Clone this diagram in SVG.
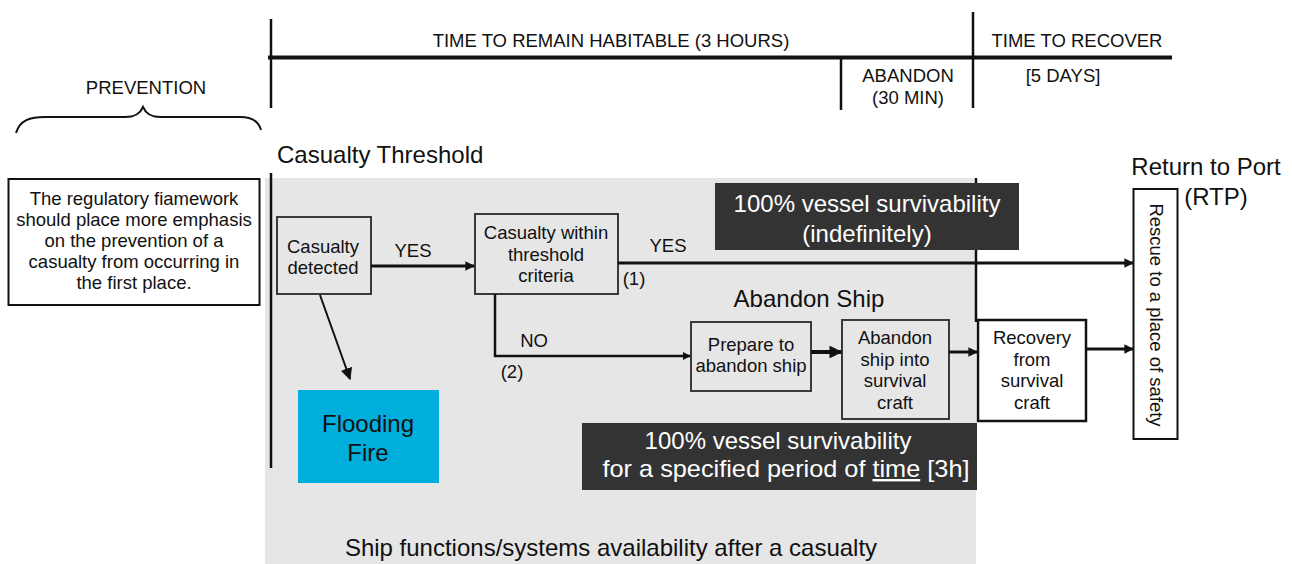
<svg xmlns="http://www.w3.org/2000/svg" width="1292" height="564" viewBox="0 0 1292 564">
<style>
text{font-family:"Liberation Sans",Arial,sans-serif;fill:#111}
.t16{font-size:18.5px}
.t15{font-size:18.5px}
.t20{font-size:24px}
.w{fill:#fff}
.box{fill:#e6e6e6;stroke:#3a3a3a;stroke-width:2}
.wbox{fill:#fff;stroke:#111;stroke-width:2.5}
.dark{fill:#333}
.ln{fill:none;stroke:#111}
</style>
<defs>
<marker id="ah" viewBox="0 0 10 10" refX="9" refY="5" markerWidth="3.2" markerHeight="3.2" orient="auto" markerUnits="strokeWidth">
<path d="M0,0 L10,5 L0,10 z" fill="#111"/>
</marker>
<marker id="ah2" viewBox="0 0 10 10" refX="9" refY="5" markerWidth="6" markerHeight="6" orient="auto" markerUnits="strokeWidth">
<path d="M0,0 L10,5 L0,10 z" fill="#111"/>
</marker>
</defs>
<rect width="1292" height="564" fill="#fff"/>
<!-- shaded area -->
<rect x="265" y="178" width="711" height="386" fill="#e6e6e6"/>
<!-- timeline -->
<g id="timeline">
<line class="ln" x1="268" y1="57.5" x2="1172" y2="57.5" stroke-width="4"/>
<line class="ln" x1="271" y1="19" x2="271" y2="108" stroke-width="2.5"/>
<line class="ln" x1="841" y1="58" x2="841" y2="110" stroke-width="2.5"/>
<line class="ln" x1="973" y1="12" x2="973" y2="108" stroke-width="2.5"/>
<line class="ln" x1="271" y1="173" x2="271" y2="468" stroke-width="2.5"/>
<line class="ln" x1="976" y1="178" x2="976" y2="322" stroke-width="2.5"/>
<text class="t16" x="611" y="47" text-anchor="middle">TIME TO REMAIN HABITABLE (3 HOURS)</text>
<text class="t16" x="1077" y="47" text-anchor="middle">TIME TO RECOVER</text>
<text class="t16" x="908" y="82" text-anchor="middle">ABANDON</text>
<text class="t16" x="908" y="104" text-anchor="middle">(30 MIN)</text>
<text class="t16" x="1063" y="82" text-anchor="middle">[5 DAYS]</text>
</g>
<g id="prevention">
<text class="t16" x="146" y="94" text-anchor="middle">PREVENTION</text>
<path class="ln" stroke-width="2" d="M16,133 C20,120 30,117 45,117 L125,117 C135,117 140,114 143,107 C146,114 151,117 161,117 L240,117 C252,117 259,122 261,130"/>
</g>
<g id="prevention-box">
<rect x="8.5" y="179" width="251" height="126" fill="#fff" stroke="#111" stroke-width="2"/>
<text class="t15" x="134" text-anchor="middle"><tspan x="134" y="205">The regulatory fiamework</tspan><tspan x="134" y="226">should place more emphasis</tspan><tspan x="134" y="247">on the prevention of a</tspan><tspan x="134" y="268">casualty from occurring in</tspan><tspan x="134" y="289">the first place.</tspan></text>
</g>
<text class="t20" x="277" y="163">Casualty Threshold</text>
<g id="casualty-detected">
<rect class="box" x="277" y="217" width="94" height="77"/>
<text class="t16" text-anchor="middle"><tspan x="323" y="253">Casualty</tspan><tspan x="323" y="274">detected</tspan></text>
</g>
<g id="casualty-within">
<rect class="box" x="475" y="214" width="143" height="80"/>
<text class="t16" text-anchor="middle"><tspan x="546" y="239">Casualty within</tspan><tspan x="546" y="261">threshold</tspan><tspan x="546" y="282">criteria</tspan></text>
</g>
<g id="flooding-fire">
<rect x="298" y="390" width="141" height="93" fill="#00aedb"/>
<text x="368" y="432" text-anchor="middle" style="font-size:24px">Flooding</text>
<text x="368" y="461" text-anchor="middle" style="font-size:24px">Fire</text>
</g>
<g id="survivability-indef">
<rect class="dark" x="715" y="183" width="304" height="67"/>
<text class="t20 w" x="867" y="212" text-anchor="middle">100% vessel survivability</text>
<text class="t20 w" x="867" y="242" text-anchor="middle">(indefinitely)</text>
</g>
<text class="t20" x="809" y="307" text-anchor="middle">Abandon Ship</text>
<g id="prepare">
<rect class="box" x="691" y="322" width="120" height="69"/>
<text class="t16" text-anchor="middle"><tspan x="751" y="351">Prepare to</tspan><tspan x="751" y="372">abandon ship</tspan></text>
</g>
<g id="abandon-into">
<rect class="box" x="842" y="320" width="107" height="99"/>
<text class="t16" text-anchor="middle"><tspan x="895" y="344">Abandon</tspan><tspan x="895" y="366">ship into</tspan><tspan x="895" y="387">survival</tspan><tspan x="895" y="409">craft</tspan></text>
</g>
<g id="recovery">
<rect class="wbox" x="978" y="320" width="108" height="101"/>
<text class="t16" text-anchor="middle"><tspan x="1032" y="344">Recovery</tspan><tspan x="1032" y="366">from</tspan><tspan x="1032" y="387">survival</tspan><tspan x="1032" y="409">craft</tspan></text>
</g>
<g id="rescue">
<rect x="1133.5" y="189" width="44" height="250" fill="#fff" stroke="#111" stroke-width="2"/>
<text class="t16" transform="translate(1150,315) rotate(90)" text-anchor="middle">Rescue to a place of safety</text>
</g>
<g id="rtp">
<text class="t20" x="1206" y="175" text-anchor="middle">Return to Port</text>
<text class="t20" x="1216" y="205" text-anchor="middle">(RTP)</text>
</g>
<g id="survivability-3h">
<rect class="dark" x="582" y="423" width="395" height="67"/>
<text class="t20 w" x="778" y="449" text-anchor="middle">100% vessel survivability</text>
<text class="t20 w" x="786" y="477" text-anchor="middle" textLength="367" lengthAdjust="spacingAndGlyphs">for a specified period of <tspan text-decoration="underline">time</tspan> [3h]</text>
</g>
<text class="t20" x="611" y="556" text-anchor="middle">Ship functions/systems availability after a casualty</text>
<g id="connectors">
<line class="ln" x1="371" y1="266" x2="474" y2="266" stroke-width="3" marker-end="url(#ah)"/>
<text class="t16" x="413" y="257" text-anchor="middle">YES</text>
<line class="ln" x1="618" y1="263" x2="1133" y2="263" stroke-width="3" marker-end="url(#ah)"/>
<text class="t16" x="668" y="252" text-anchor="middle">YES</text>
<text class="t16" x="634" y="285" text-anchor="middle">(1)</text>
<polyline class="ln" points="495,294 495,356 690,356" stroke-width="2.5" marker-end="url(#ah)"/>
<text class="t16" x="534" y="347" text-anchor="middle">NO</text>
<text class="t16" x="512" y="378" text-anchor="middle">(2)</text>
<line class="ln" x1="320" y1="295" x2="350" y2="379" stroke-width="2" marker-end="url(#ah2)"/>
<line class="ln" x1="811" y1="352" x2="841" y2="352" stroke-width="4" marker-end="url(#ah)"/>
<line class="ln" x1="949" y1="352" x2="977" y2="352" stroke-width="3" marker-end="url(#ah)"/>
<line class="ln" x1="1086" y1="349" x2="1133" y2="349" stroke-width="3" marker-end="url(#ah)"/>
</g>
</svg>
